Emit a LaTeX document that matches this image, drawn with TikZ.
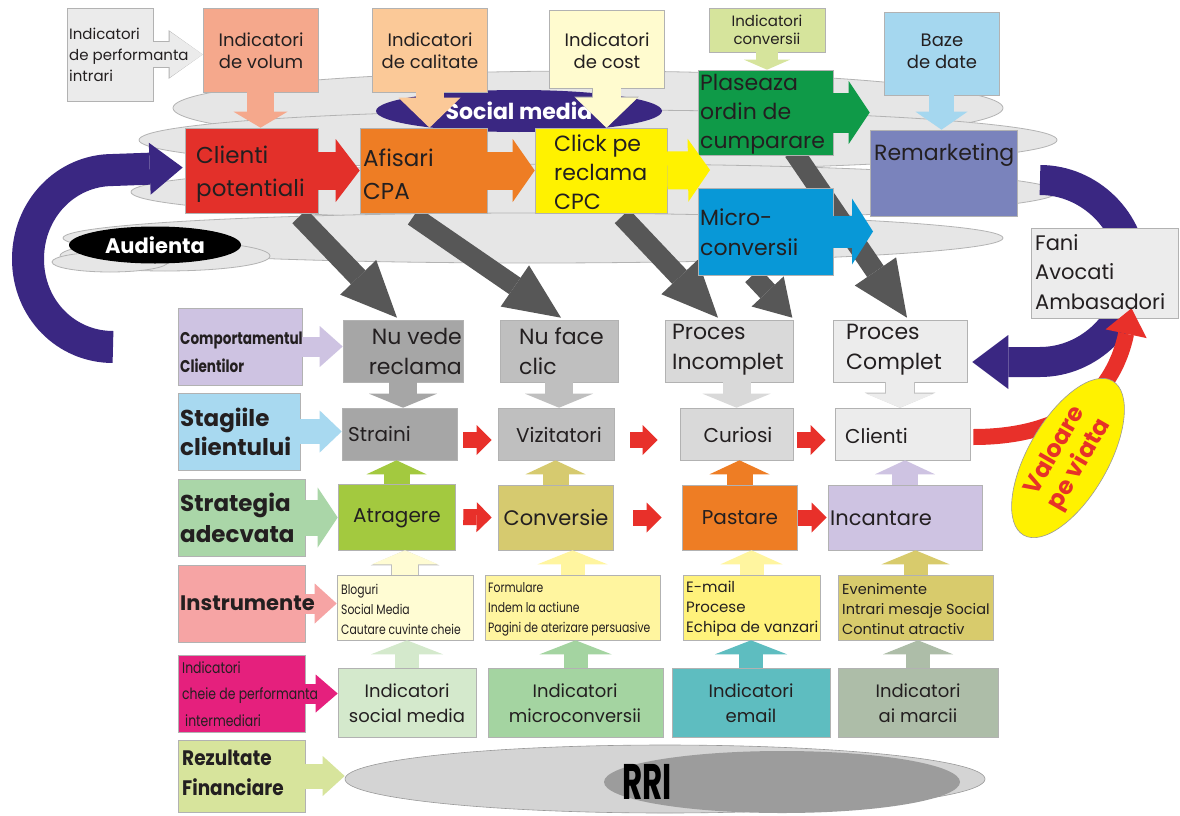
\documentclass[tikz,border=0pt]{standalone}
\usepackage{fontspec}
\setmainfont{Poppins}
\newfontfamily\narrowfont{Poppins}[FakeStretch=0.8]
\newfontfamily\semifont{Poppins}[FakeStretch=0.88]
\usepackage{graphicx}
\usetikzlibrary{arrows.meta,calc,fit,shapes.geometric}
\pgfdeclarelayer{back}
\pgfdeclarelayer{mid}
\pgfsetlayers{back,mid,main}
\newcommand\fs[2]{\fontsize{#1}{#2}\selectfont}
\newcommand\bx[4]{\node[boxst, fill=#2, fit={#3 #4}] (#1) {};}

\definecolor{txtC}{HTML}{231F20}
\definecolor{perfinC}{HTML}{EBEBEB}
\definecolor{volumC}{HTML}{F5A88C}
\definecolor{calitC}{HTML}{FBC998}
\definecolor{costC}{HTML}{FFFBCF}
\definecolor{iconvC}{HTML}{D6E49C}
\definecolor{plasC}{HTML}{0F9A48}
\definecolor{bazeC}{HTML}{A5D7EF}
\definecolor{remkC}{HTML}{7A83BC}
\definecolor{clpotC}{HTML}{E3302A}
\definecolor{afisC}{HTML}{EE7D24}
\definecolor{clickC}{HTML}{FFF200}
\definecolor{microC}{HTML}{0898D7}
\definecolor{faniC}{HTML}{ECECEC}
\definecolor{indigo}{HTML}{3A2782}
\definecolor{cloudgray}{HTML}{E6E6E6}
\definecolor{cloudedge}{HTML}{B3B3B3}
\definecolor{arrowgray}{HTML}{575757}
\definecolor{compC}{HTML}{CEC3E2}
\definecolor{gA}{HTML}{A6A6A6}
\definecolor{gB}{HTML}{BFBFBF}
\definecolor{gC}{HTML}{D9D9D9}
\definecolor{gD}{HTML}{ECECEC}
\definecolor{stagC}{HTML}{A8D9F0}
\definecolor{stratC}{HTML}{AAD6A8}
\definecolor{atragC}{HTML}{A3C93F}
\definecolor{convC}{HTML}{D6CA6F}
\definecolor{pastC}{HTML}{EE7D24}
\definecolor{incantC}{HTML}{CEC3E2}
\definecolor{instrC}{HTML}{F6A4A4}
\definecolor{blogC}{HTML}{FFFCD3}
\definecolor{formC}{HTML}{FFF59F}
\definecolor{emailC}{HTML}{FFF27B}
\definecolor{evenC}{HTML}{D8CB6C}
\definecolor{kpiC}{HTML}{E5207D}
\definecolor{isocC}{HTML}{D4E9CC}
\definecolor{imicroC}{HTML}{A4D4A1}
\definecolor{iemailC}{HTML}{5EBDC0}
\definecolor{imarcC}{HTML}{ADBDA8}
\definecolor{rezC}{HTML}{D7E49C}
\definecolor{redA}{HTML}{E8302A}
\definecolor{rriL}{HTML}{D4D4D4}
\definecolor{rriD}{HTML}{9C9C9C}
\definecolor{yel}{HTML}{FFF200}
\definecolor{valred}{HTML}{E63228}

\tikzset{
 boxst/.style={rectangle, inner sep=0pt, draw=black!30, line width=0.6pt},
 tx/.style={inner sep=0pt, text=txtC, align=left},
 txc/.style={inner sep=0pt, text=txtC, align=center},
 blk/.style n args={4}{draw=#1, line width=#2, -{Triangle[width=#3,length=#4,line width=0pt]}},
 gblk/.style={draw=arrowgray, line width=20pt, -{Triangle[width=50pt,length=56pt,line width=0pt]}},
 gblks/.style={draw=arrowgray, line width=20pt, -{Triangle[width=44pt,length=36pt,line width=0pt]}},
 rarr/.style={draw=redA, line width=16pt, -{Triangle[width=30pt,length=15pt,line width=0pt]}},
 cloudst/.style={fill=cloudgray, draw=cloudedge, line width=0.8pt},
}

\begin{document}
\begin{tikzpicture}[x=1pt,y=-1pt]
\useasboundingbox (0,0) rectangle (1180,816);
\begin{pgfonlayer}{back}
\fill[white] (0,0) rectangle (1180,816);
\draw[cloudst] (588,108) ellipse [x radius=415pt, y radius=37pt];
\draw[cloudst] (598,140) ellipse [x radius=459pt, y radius=30pt];
\draw[cloudst] (594,192) ellipse [x radius=463pt, y radius=28pt];
\draw[cloudst] (533,238) ellipse [x radius=470pt, y radius=25pt];
\draw[cloudst] (165,256) ellipse [x radius=105pt, y radius=15pt];
\draw[cloudst] (110,262) ellipse [x radius=58pt, y radius=10pt];
\node[ellipse, fill=black, minimum width=172pt, minimum height=37pt, inner sep=0pt, text=white, font=\bfseries\fs{21}{24}] (aud) at (155,245) {Audienta};
\end{pgfonlayer}

% ===== boxes top
\bx{perfin}{perfinC}{(67,8)}{(153,101)}
\bx{volum}{volumC}{(203,8)}{(318,92)}
\bx{calit}{calitC}{(372,8)}{(487,92)}
\bx{cost}{costC}{(549,10)}{(664,88)}
\bx{iconv}{iconvC}{(709,8)}{(825,52)}
\bx{baze}{bazeC}{(884,12)}{(999,95)}
\bx{plas}{plasC}{(698,70)}{(833,155)}
\bx{remk}{remkC}{(870,130)}{(1017,216)}
\bx{clpot}{clpotC}{(185,128)}{(318,213)}
\bx{afis}{afisC}{(360,128)}{(487,213)}
\bx{click}{clickC}{(535,128)}{(667,213)}
\bx{micro}{microC}{(698,188)}{(833,275)}
\bx{fani}{faniC}{(1031,228)}{(1178,318)}

% ===== boxes middle
\bx{comp}{compC}{(178,308)}{(302,385)}
\bx{nuvede}{gA}{(343,320)}{(463,382)}
\bx{nuface}{gB}{(500,320)}{(618,382)}
\bx{incompl}{gC}{(665,320)}{(793,382)}
\bx{complet}{gD}{(833,320)}{(967,382)}
\bx{stag}{stagC}{(178,393)}{(300,470)}
\bx{straini}{gA}{(342,408)}{(457,460)}
\bx{vizit}{gB}{(498,408)}{(614,460)}
\bx{curiosi}{gC}{(680,408)}{(793,460)}
\bx{clienti}{gD}{(835,408)}{(970,460)}
\bx{strat}{stratC}{(178,479)}{(305,556)}
\bx{atrag}{atragC}{(338,484)}{(455,550)}
\bx{conv}{convC}{(498,485)}{(613,550)}
\bx{past}{pastC}{(682,485)}{(797,550)}
\bx{incant}{incantC}{(828,485)}{(982,550)}
\bx{instr}{instrC}{(178,565)}{(305,642)}
\bx{blog}{blogC}{(337,575)}{(473,640)}
\bx{form}{formC}{(485,575)}{(660,640)}
\bx{email}{emailC}{(683,575)}{(820,640)}
\bx{even}{evenC}{(838,575)}{(993,640)}
\bx{kpi}{kpiC}{(178,655)}{(305,732)}
\bx{isoc}{isocC}{(338,668)}{(476,737)}
\bx{imicro}{imicroC}{(488,668)}{(663,737)}
\bx{iemail}{iemailC}{(672,668)}{(830,737)}
\bx{imarc}{imarcC}{(838,668)}{(998,737)}
\bx{rez}{rezC}{(178,740)}{(305,812)}

% RRI
\node[ellipse, fill=rriL, draw=black!40, line width=0.6pt, minimum width=640pt, minimum height=68pt, inner sep=0pt] (rri) at (665,779) {};
\node[ellipse, fill=rriD, minimum width=356pt, minimum height=62pt, inner sep=0pt] (rricore) at (782,782) {};
\node[inner sep=0pt, font=\bfseries\fs{50}{54}, text=black] (rritext) at (647,782) {\scalebox{0.62}[1]{RRI}};

% ===== mid layer: gray arrows, social media, purple arrows
\begin{pgfonlayer}{mid}
\draw[gblk] ($(clpot.south)+(48,3)$) -- ($(nuvede.north)+(-6,-2)$);
\draw[gblk] ($(afis.south)+(-10,3)$) -- ($(nuface.north)+(2,-2)$);
\draw[gblk] ($(click.south)+(21,3)$) -- ($(incompl.north)+(-11,-2)$);
\draw[gblks] ($(micro.south)+(-13,0)$) -- ($(incompl.north east)+(-1,-2)$);
\draw[gblk] ($(plas.south)+(28,-4)$) -- ($(complet.north)+(7,-2)$);
\node[ellipse, fill=indigo, minimum width=286pt, minimum height=42pt, inner sep=0pt, text=white, font=\bfseries\fs{22}{26}] (socmed) at (519,111) {Social media};
\coordinate (lstart) at (113,347);
\draw[draw=indigo, line width=32pt, -{Triangle[width=52pt,length=33pt,line width=0pt]}]
  (lstart) .. controls (66,347) and (28,309) .. (28,259)
  .. controls (28,209) and (66,170) .. (113,170) -- ($(clpot.west)+(-2,-3)$);
\coordinate (rstart) at (1040,180);
\draw[draw=indigo, line width=30pt, -{Triangle[width=54pt,length=36pt,line width=0pt]}]
  (rstart) .. controls (1090,180) and (1132,222) .. (1132,271)
  .. controls (1132,320) and (1090,362) .. (1040,362) -- ($(complet.east)+(5,11)$);
\end{pgfonlayer}

% ===== top arrows
\draw[blk={black!30}{26.6pt}{48.5pt}{34pt}] (perfin.east) -- (perfin.east -| volum.west);
\draw[blk={perfinC}{25pt}{46pt}{33pt}] (perfin.east) -- (perfin.east -| volum.west);
\draw[blk={volumC}{27pt}{54pt}{16pt}] (volum.south) -- (volum.south |- clpot.north);
\draw[blk={calitC}{28pt}{62pt}{30pt}] (calit.south) -- (calit.south |- afis.north);
\draw[blk={black!30}{29.6pt}{64.5pt}{31pt}] (cost.south) -- (cost.south |- click.north);
\draw[blk={costC}{28pt}{62pt}{30pt}] (cost.south) -- (cost.south |- click.north);
\draw[blk={iconvC}{22pt}{46pt}{10pt}] (iconv.south) -- (iconv.south |- plas.north);
\draw[blk={bazeC}{25pt}{52pt}{18pt}] (baze.south) -- (baze.south |- remk.north);
\draw[blk={clpotC}{38pt}{63pt}{24pt}] (clpot.east) -- (afis.west);
\draw[blk={afisC}{38pt}{63pt}{22pt}] (afis.east) -- (click.west);
\coordinate (clicktip) at (710,170);
\draw[blk={clickC}{38pt}{63pt}{22pt}] (click.east) -- (clicktip);
\draw[blk={plasC}{40pt}{63pt}{21pt}] (plas.east) -- (plas.east -| remk.west);
\coordinate (microtip) at (873,232);
\draw[blk={microC}{32pt}{66pt}{21pt}] (micro.east) -- (micro.east -| microtip);

% ===== red curved arrow and lifetime value
\draw[draw=redA, line width=16pt, -{Triangle[width=42pt,length=26pt,line width=0pt]}]
  ($(clienti.east)+(3,3)$) .. controls (1060,437) and (1112,400) .. ($(fani.south)+(27,-10)$);
\node[ellipse, fill=yel, draw=black!40, line width=0.6pt, minimum width=178pt, minimum height=80pt, inner sep=0pt, rotate=60, text=valred, font=\bfseries\fs{24}{28}, align=center] (valoare) at (1068,458) {Valoare\\pe viata};

% ===== label arrows
\draw[blk={compC}{20pt}{41pt}{23pt}] (comp.east) -- (comp.east -| nuvede.west);
\draw[blk={stagC}{25pt}{42pt}{22pt}] (stag.east) -- (stag.east -| straini.west);
\draw[blk={stratC}{36pt}{60pt}{20pt}] (strat.east) -- (strat.east -| atrag.west);
\draw[blk={instrC}{20pt}{40pt}{22pt}] (instr.east) -- (instr.east -| blog.west);
\draw[blk={kpiC}{20pt}{38pt}{22pt}] (kpi.east) -- (kpi.east -| isoc.west);
\draw[blk={rezC}{25pt}{40pt}{22pt}] (rez.east) -- (rez.east -| rri.west);

% ===== vertical arrows
\draw[blk={gA}{28pt}{68pt}{14pt}] (nuvede.south) -- (nuvede.south |- straini.north);
\draw[blk={gB}{28pt}{68pt}{14pt}] (nuface.south) -- (nuface.south |- vizit.north);
\draw[blk={gC}{28pt}{68pt}{14pt}] (curiosi.north |- incompl.south) -- (curiosi.north);
\draw[blk={black!25}{29.6pt}{70.5pt}{15pt}] (complet.south) -- (complet.south |- clienti.north);
\draw[blk={gD}{28pt}{68pt}{14pt}] (complet.south) -- (complet.south |- clienti.north);

\draw[blk={atragC}{26pt}{60pt}{14pt}] (atrag.north) -- (atrag.north |- straini.south);
\draw[blk={convC}{26pt}{60pt}{14pt}] (conv.north) -- (conv.north |- vizit.south);
\draw[blk={pastC}{26pt}{60pt}{14pt}] (past.north) -- (past.north |- curiosi.south);
\draw[blk={incantC}{26pt}{60pt}{14pt}] (incant.north) -- (incant.north |- clienti.south);

\draw[blk={black!25}{27.6pt}{68.5pt}{15pt}] (blog.north) -- (blog.north |- atrag.south);
\draw[blk={blogC}{26pt}{66pt}{14pt}] (blog.north) -- (blog.north |- atrag.south);
\draw[blk={formC}{24pt}{70pt}{14pt}] (form.north) -- (form.north |- conv.south);
\draw[blk={formC}{24pt}{62pt}{14pt}] (email.north) -- (email.north |- past.south);
\draw[blk={evenC}{24pt}{68pt}{14pt}] (even.north) -- (even.north |- incant.south);

\draw[blk={isocC}{24pt}{72pt}{14pt}] (isoc.north) -- (isoc.north |- blog.south);
\draw[blk={imicroC}{24pt}{72pt}{14pt}] (imicro.north) -- (imicro.north |- form.south);
\draw[blk={iemailC}{24pt}{72pt}{14pt}] (iemail.north) -- (iemail.north |- email.south);
\draw[blk={imarcC}{24pt}{70pt}{14pt}] (imarc.north) -- (imarc.north |- even.south);

% ===== red small arrows
\draw[rarr] ($(straini.east)+(6,6)$) -- ($(vizit.west)+(-6,6)$);
\draw[rarr] ($(vizit.east)+(16,6)$) -- ($(curiosi.west)+(-22,6)$);
\draw[rarr] ($(curiosi.east)+(4,6)$) -- ($(clienti.west)+(-9,6)$);
\draw[rarr] ($(atrag.east)+(8,0)$) -- ($(conv.west)+(-6,0)$);
\draw[rarr] ($(conv.east)+(20,0)$) -- ($(past.west)+(-20,0)$);
\draw[rarr] ($(past.east)+(1,0)$) -- ($(incant.west)+(-1,0)$);

% ===== texts top
\node[tx, anchor=west, font=\fs{15}{21}] (t-perfin) at (69,55) {Indicatori\\de performanta\\intrari};
\node[txc, font=\fs{18}{22}] (t-volum) at (261,51) {Indicatori\\de volum};
\node[txc, font=\fs{18}{22}] (t-calit) at (430,51) {Indicatori\\de calitate};
\node[txc, font=\fs{18}{22}] (t-cost) at (607,51) {Indicatori\\de cost};
\node[txc, font=\fs{15}{18}] (t-iconv) at (767,30) {Indicatori\\conversii};
\node[txc, font=\fs{18}{22}] (t-baze) at (942,51) {Baze\\de date};
\node[tx, anchor=west, font=\fs{22}{29}] (t-plas) at (700,114) {Plaseaza\\ordin de\\cumparare};
\node[tx, anchor=west, font=\fs{23}{33}] (t-clpot) at (196,174) {Clienti\\potentiali};
\node[tx, anchor=west, font=\fs{23}{33}] (t-afis) at (363,174) {Afisari\\CPA};
\node[tx, anchor=west, font=\fs{22}{29}] (t-click) at (554,172) {Click pe\\reclama\\CPC};
\node[tx, anchor=west, font=\fs{22}{30}] (t-micro) at (700,232) {Micro-\\conversii};
\node[tx, anchor=west, font=\fs{22}{26}] (t-remk) at (874,155) {Remarketing};
\node[tx, anchor=west, font=\fs{21}{29.5}] (t-fani) at (1035,272) {Fani\\Avocati\\Ambasadori};

% ===== texts left labels
\node[tx, anchor=west, font=\narrowfont\bfseries\fs{17}{28}] (t-comp) at (180,352) {Comportamentul\\Clientilor};
\node[tx, anchor=west, font=\bfseries\fs{23}{29}] (t-stag) at (180,432) {Stagiile\\clientului};
\node[tx, anchor=west, font=\bfseries\fs{23}{31}] (t-strat) at (180,518) {Strategia\\adecvata};
\node[tx, anchor=west, font=\bfseries\fs{21}{26}] (t-instr) at (180,603) {Instrumente};
\node[tx, anchor=west, font=\narrowfont\fs{15.5}{26.5}] (t-kpi) at (182,694) {Indicatori\\cheie de performanta\\\hspace{3pt}intermediari};
\node[tx, anchor=west, font=\semifont\bfseries\fs{21}{30}] (t-rez) at (182,773) {Rezultate\\Financiare};

% ===== texts middle
\node[tx, anchor=east, align=right, font=\fs{22}{30}] (t-nuvede) at (462,351) {Nu vede\\reclama};
\node[tx, anchor=west, font=\fs{22}{30}] (t-nuface) at (519,351) {Nu face\\clic};
\node[tx, anchor=west, font=\fs{22}{30}] (t-incompl) at (672,350) {Proces\\Incomplet};
\node[tx, anchor=west, font=\fs{22}{30}] (t-complet) at (846,350) {Proces\\Complet};
\node[tx, anchor=west, font=\fs{20}{24}] (t-straini) at (348,434) {Straini};
\node[txc, font=\fs{20}{24}] (t-vizit) at (559,435) {Vizitatori};
\node[txc, font=\fs{20}{24}] (t-curiosi) at (738,435) {Curiosi};
\node[tx, anchor=west, font=\fs{20}{24}] (t-clienti) at (845,436) {Clienti};
\node[txc, font=\fs{20}{24}] (t-atrag) at (397,518) {Atragere};
\node[txc, font=\fs{21}{24}] (t-conv) at (556,518) {Conversie};
\node[txc, font=\fs{20}{24}] (t-past) at (740,518) {Pastare};
\node[tx, anchor=west, font=\fs{21}{24}] (t-incant) at (830,518) {Incantare};
\node[tx, anchor=west, font=\narrowfont\fs{13.5}{20}] (t-blog) at (341,609) {Bloguri\\Social Media\\Cautare cuvinte cheie};
\node[tx, anchor=west, font=\narrowfont\fs{13.5}{20}] (t-form) at (488,609) {Formulare\\Indem la actiune\\Pagini de aterizare persuasive};
\node[tx, anchor=west, font=\fs{15}{20}] (t-email) at (686,609) {E-mail\\Procese\\Echipa de vanzari};
\node[tx, anchor=west, font=\fs{14.5}{20}] (t-even) at (842,609) {Evenimente\\Intrari mesaje Social\\Continut atractiv};
\node[txc, font=\fs{18}{25}] (t-isoc) at (407,703) {Indicatori\\social media};
\node[txc, font=\fs{18}{25}] (t-imicro) at (575,703) {Indicatori\\microconversii};
\node[txc, font=\fs{18}{25}] (t-iemail) at (751,703) {Indicatori\\email};
\node[txc, font=\fs{18}{25}] (t-imarc) at (918,703) {Indicatori\\ai marcii};
\end{tikzpicture}
\end{document}
